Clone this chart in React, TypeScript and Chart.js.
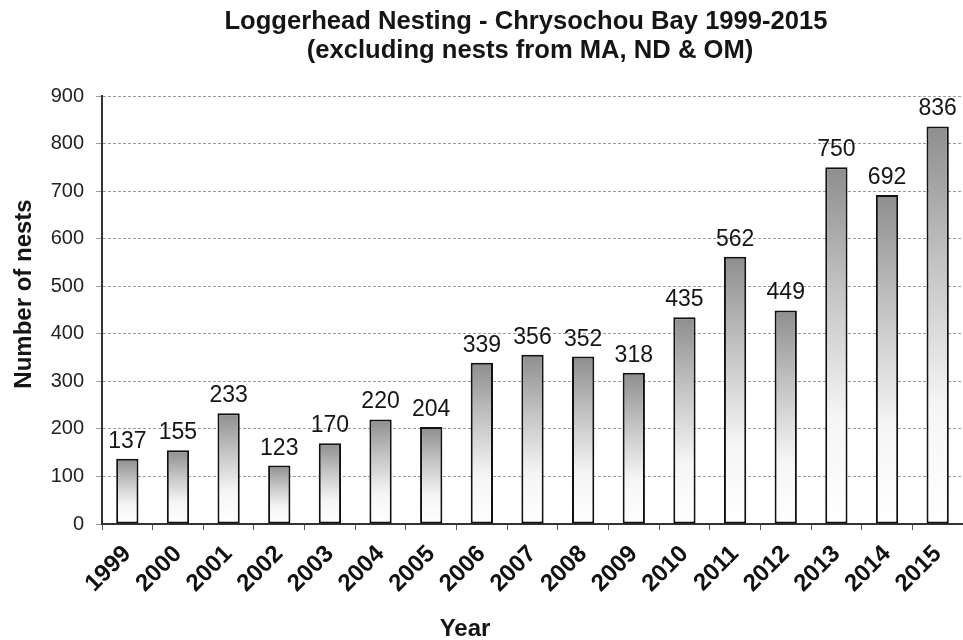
import React, { useEffect, useRef } from 'react';
import { Chart, registerables } from 'chart.js';

Chart.register(...registerables);

const years = ['1999', '2000', '2001', '2002', '2003', '2004', '2005', '2006', '2007', '2008', '2009', '2010', '2011', '2012', '2013', '2014', '2015'];
const nests = [137, 155, 233, 123, 170, 220, 204, 339, 356, 352, 318, 435, 562, 449, 750, 692, 836];
const yMin = 0;
const yMax = 900;
const yStep = 100;
const titleLines = ['Loggerhead Nesting - Chrysochou Bay 1999-2015', '(excluding nests from MA, ND & OM)'];
const xTitle = 'Year';
const yTitle = 'Number of nests';

const FAMILY = '"Liberation Sans", Arial, Helvetica, sans-serif';

const overlay = {
  id: 'overlay',
  afterDatasetsDraw(chart: any) {
    const ctx = chart.ctx;
    const meta = chart.getDatasetMeta(0);
    ctx.save();
    ctx.fillStyle = '#151515';
    ctx.textAlign = 'center';
    ctx.textBaseline = 'alphabetic';
    ctx.font = `23px ${FAMILY}`;
    meta.data.forEach((bar: any, i: number) => {
      ctx.fillText(String(nests[i]), bar.x, bar.y - 11);
    });
    ctx.font = `bold 25.6px ${FAMILY}`;
    ctx.fillText(titleLines[0], 526, 29);
    ctx.fillText(titleLines[1], 530, 58);
    ctx.font = `bold 24px ${FAMILY}`;
    ctx.fillText(xTitle, 465, 636);
    ctx.translate(31, 294);
    ctx.rotate(-Math.PI / 2);
    ctx.fillText(yTitle, 0, 0);
    ctx.restore();
  },
};

export default function App() {
  const ref = useRef<HTMLCanvasElement | null>(null);
  useEffect(() => {
    if (!ref.current) return;
    const chart = new Chart(ref.current, {
      type: 'bar',
      data: {
        labels: years,
        datasets: [
          {
            data: nests,
            borderColor: '#111',
            borderWidth: 2,
            borderSkipped: false,
            barPercentage: 0.44,
            categoryPercentage: 1,
            backgroundColor: (c: any) => {
              const chart = c.chart;
              const ys = chart.scales && chart.scales.y;
              if (!ys || c.dataIndex === undefined) return '#bbb';
              const top = ys.getPixelForValue(nests[c.dataIndex]);
              const base = ys.getPixelForValue(0);
              if (!isFinite(top) || !isFinite(base) || top === base) return '#bbb';
              const g = chart.ctx.createLinearGradient(0, top, 0, base);
              g.addColorStop(0, '#8e8e8e');
              g.addColorStop(0.35, '#c4c4c4');
              g.addColorStop(0.7, '#f5f5f5');
              g.addColorStop(1, '#ffffff');
              return g;
            },
          },
        ],
      },
      options: {
        responsive: false,
        animation: false,
        layout: { padding: { top: 96, left: 0, right: 0, bottom: 0 } },
        plugins: {
          legend: { display: false },
          title: { display: false },
          tooltip: { enabled: false },
        },
        scales: {
          x: {
            grid: { offset: true, drawOnChartArea: false, color: '#555', tickLength: 6, lineWidth: 1 },
            border: { color: '#333', width: 2 },
            ticks: {
              maxRotation: 45,
              minRotation: 45,
              color: '#111',
              padding: 10,
              font: { family: FAMILY, size: 24, weight: 'bold' },
            },
            afterFit: (s: any) => {
              s.height = 116;
              s.paddingLeft = 0;
              s.paddingRight = 0;
            },
          },
          y: {
            min: yMin,
            max: yMax,
            ticks: {
              stepSize: yStep,
              color: '#222',
              padding: 12,
              font: { family: FAMILY, size: 20 },
            },
            grid: { color: '#9a9a9a', tickLength: 6, lineWidth: 1 },
            border: { color: '#333', width: 2, dash: [3, 2] },
            afterFit: (s: any) => {
              s.width = 102;
            },
          },
        },
      },
      plugins: [overlay],
    } as any);
    return () => chart.destroy();
  }, []);
  return (
    <div style={{ position: 'absolute', left: 0, top: 0, width: 963, height: 640, background: '#fff' }}>
      <canvas ref={ref} width={963} height={640} />
    </div>
  );
}
